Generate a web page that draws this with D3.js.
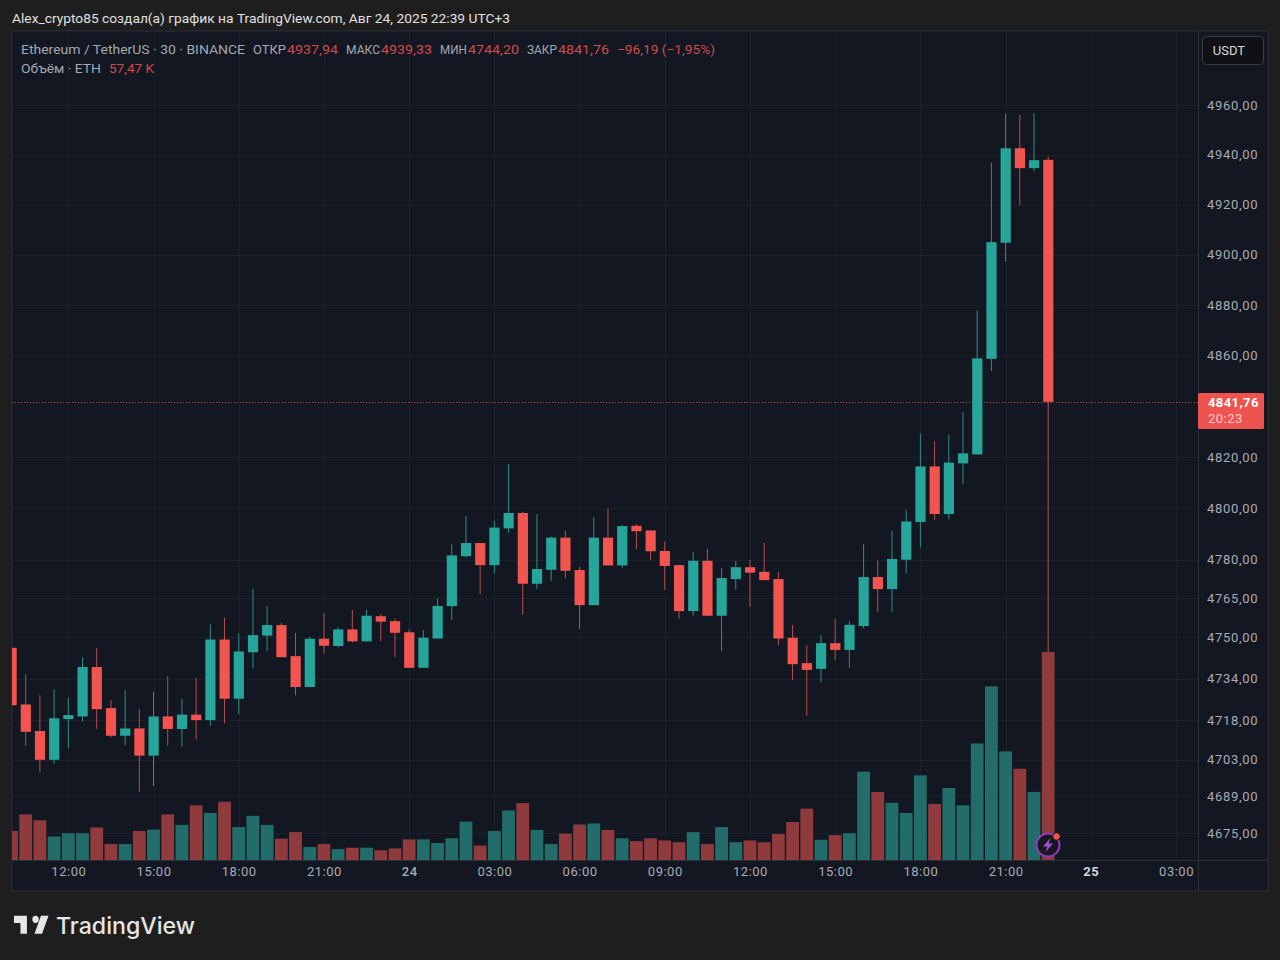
<!DOCTYPE html>
<html><head><meta charset="utf-8">
<script src="https://cdnjs.cloudflare.com/ajax/libs/d3/7.8.5/d3.min.js"></script>
<style>html,body{margin:0;padding:0;background:#1e1e1e}svg{display:block}text{font-family:Roboto,"Noto Sans",sans-serif}</style>
</head><body><svg id="c" width="1280" height="960"></svg>
<script>
const opens=[4745.9,4724.1,4713.9,4702.9,4718.5,4719.5,4738.5,4722.7,4712.1,4714.9,4704.5,4719.5,4714.7,4720.2,4718.1,4749.1,4726.3,4744.2,4750.6,4754.7,4742.7,4730.8,4749.4,4746.6,4753.0,4748.4,4758.1,4756.2,4751.9,4738.2,4749.5,4762.0,4781.4,4786.5,4777.9,4792.2,4798.2,4770.7,4776.1,4788.6,4776.0,4762.4,4788.6,4777.8,4793.2,4791.4,4783.4,4777.9,4760.1,4779.6,4758.3,4772.5,4777.1,4775.3,4772.5,4749.8,4740.0,4737.8,4747.7,4745.1,4754.3,4773.3,4768.6,4780.0,4794.7,4816.4,4797.8,4817.6,4821.1,4858.7,4904.8,4942.6,4934.6,4937.94];
const highs=[4745.9,4735.7,4727.7,4729.9,4726.7,4742.2,4745.9,4725.8,4729.6,4722.3,4729.0,4735.0,4726.2,4734.3,4754.9,4757.6,4751.5,4768.7,4762.0,4755.5,4751.7,4750.2,4759.4,4754.0,4760.5,4760.5,4758.9,4757.3,4753.0,4752.7,4765.0,4786.0,4797.0,4786.5,4795.2,4817.3,4798.7,4797.8,4789.0,4791.2,4777.3,4796.5,4800.0,4793.5,4793.9,4791.4,4787.0,4777.9,4783.1,4784.3,4776.7,4779.4,4779.9,4786.6,4775.3,4754.7,4746.9,4750.7,4757.0,4756.2,4786.0,4779.8,4791.3,4799.3,4829.3,4826.3,4828.8,4837.6,4877.8,4936.8,4956.4,4956.0,4956.6,4939.33];
const lows=[4723.8,4708.3,4698.1,4701.3,4707.3,4717.6,4714.7,4711.5,4708.5,4690.7,4692.9,4708.3,4707.9,4710.7,4715.8,4716.9,4720.4,4738.1,4744.7,4742.3,4727.6,4730.8,4743.7,4746.1,4748.0,4748.4,4748.5,4742.4,4738.2,4738.2,4749.5,4756.6,4780.9,4766.7,4774.7,4790.4,4758.6,4768.7,4771.8,4772.8,4753.3,4762.4,4777.8,4776.9,4784.2,4779.9,4768.2,4757.1,4758.3,4758.3,4744.7,4768.5,4761.7,4772.1,4746.9,4733.5,4719.8,4732.6,4741.2,4738.3,4753.4,4759.6,4759.6,4774.6,4784.8,4795.4,4795.7,4809.5,4821.2,4853.9,4897.2,4919.6,4933.2,4744.20];
const closes=[4723.8,4713.6,4702.9,4718.8,4720.0,4738.5,4722.3,4712.1,4714.9,4704.5,4719.5,4714.7,4720.2,4718.1,4749.1,4726.3,4744.5,4750.8,4754.7,4742.3,4730.8,4749.4,4746.7,4753.0,4748.4,4758.3,4756.0,4751.7,4738.2,4749.8,4762.1,4781.7,4786.5,4777.9,4792.5,4798.2,4770.7,4776.4,4788.6,4775.7,4762.4,4788.6,4777.8,4793.1,4791.1,4783.3,4777.6,4760.1,4779.6,4758.3,4772.9,4777.1,4775.0,4772.1,4749.5,4739.6,4737.4,4747.7,4745.1,4754.8,4773.3,4768.6,4780.3,4794.9,4816.4,4797.8,4817.9,4821.5,4858.9,4905.0,4942.6,4934.6,4937.8,4841.76];
const volumes=[8.0,12.6,11.0,6.5,7.4,7.4,9.0,4.4,4.4,8.0,8.4,12.6,9.7,15.1,13.0,16.1,9.1,12.2,9.7,5.9,7.7,3.6,4.4,3.0,3.4,3.4,2.7,3.2,5.7,5.7,4.7,6.0,10.6,4.0,8.0,13.7,15.7,8.3,4.4,7.3,9.8,10.1,8.3,6.0,5.2,6.0,5.4,4.9,7.7,4.4,9.1,4.9,5.4,4.9,7.2,10.5,14.2,5.6,6.9,7.4,24.4,18.8,15.8,13.0,23.4,15.5,19.9,15.1,32.2,48.0,30.0,25.2,18.8,57.47];
const priceTicks=[4960,4940,4920,4900,4880,4860,4820,4800,4780,4765,4750,4734,4718,4703,4689,4675];
const timeTickBars=[4,10,16,22,28,34,40,46,52,58,64,70,76,82];
const timeTickLabels=["12:00","15:00","18:00","21:00","24","03:00","06:00","09:00","12:00","15:00","18:00","21:00","25","03:00"];

const W=1280,H=960,L=12,R=1198,RE=1268,T=31,B=860,BE=891;
const UP="#26a69a",DN="#f2554f",UPV="#226d69",DNV="#8f3b3e",GRID="#1c202b",TXT="#a8abb4";
const svg=d3.select("#c");
const loc=d3.formatLocale({decimal:",",thousands:"",grouping:[3],currency:["",""]});
const f2=loc.format(".2f");

svg.append("rect").attr("width",W).attr("height",H).attr("fill","#1e1e1e");
svg.append("text").attr("x",12).attr("y",22.5).attr("fill","#e0e0e0").attr("font-size",13.5).attr("font-weight",400)
  .attr("textLength",498).attr("lengthAdjust","spacingAndGlyphs")
  .text("Alex_crypto85 создал(а) график на TradingView.com, Авг 24, 2025 22:39 UTC+3");
svg.append("rect").attr("x",L).attr("y",T).attr("width",RE-L).attr("height",BE-T).attr("fill","#131722").attr("stroke","#2a2e39");

const x=d3.scaleLinear().domain([0,73]).range([11.5,1048.2]);
const y=d3.scaleLog().domain([4960,4675]).range([105,833]);
const v=d3.scaleLinear().domain([0,d3.max(volumes)]).range([B,652]);

svg.append("defs").append("clipPath").attr("id","pane").append("rect").attr("x",L).attr("y",T).attr("width",R-L).attr("height",B-T);

const xAxis=d3.axisBottom(x).tickValues(timeTickBars).tickSize(0).tickPadding(0).tickFormat((d,i)=>timeTickLabels[i]);
const yAxis=d3.axisRight(y).tickValues(priceTicks).tickSize(0).tickPadding(9).tickFormat(f2);

const grid=svg.append("g").attr("clip-path","url(#pane)").attr("stroke",GRID).attr("stroke-width",1);
grid.selectAll("line.h").data(priceTicks).join("line").attr("class","h").attr("x1",L).attr("x2",R).attr("y1",d=>Math.round(y(d))+.5).attr("y2",d=>Math.round(y(d))+.5);
grid.selectAll("line.v").data(timeTickBars).join("line").attr("class","v").attr("y1",T).attr("y2",B).attr("x1",d=>Math.round(x(d))+.5).attr("x2",d=>Math.round(x(d))+.5);

const plot=svg.append("g").attr("clip-path","url(#pane)");
const idx=d3.range(opens.length);
const isUp=i=>closes[i]>=opens[i];
plot.selectAll("rect.vol").data(idx).join("rect").attr("class","vol")
  .attr("x",i=>x(i)-6.4).attr("width",12.8).attr("y",i=>v(volumes[i])).attr("height",i=>B-v(volumes[i]))
  .attr("fill",i=>isUp(i)?UPV:DNV);
plot.append("line").attr("x1",L).attr("x2",R).attr("y1",Math.round(y(closes[73]))+.5).attr("y2",Math.round(y(closes[73]))+.5)
  .attr("stroke","#ef5350").attr("stroke-width",1).attr("stroke-dasharray","1 2").attr("opacity",.8);
plot.selectAll("line.wick").data(idx).join("line").attr("class","wick")
  .attr("x1",i=>x(i)).attr("x2",i=>x(i)).attr("y1",i=>y(highs[i])).attr("y2",i=>y(lows[i]))
  .attr("stroke",i=>isUp(i)?"#2b8f88":"#b5504e").attr("stroke-width",1);
plot.selectAll("rect.body").data(idx).join("rect").attr("class","body")
  .attr("x",i=>x(i)-5).attr("width",10.2)
  .attr("y",i=>y(Math.max(opens[i],closes[i])))
  .attr("height",i=>Math.max(1,Math.abs(y(opens[i])-y(closes[i]))))
  .attr("fill",i=>isUp(i)?UP:DN);

// separators
svg.append("line").attr("x1",R+.5).attr("x2",R+.5).attr("y1",T).attr("y2",BE).attr("stroke","#2a2e39");
svg.append("line").attr("x1",L).attr("x2",RE).attr("y1",B+.5).attr("y2",B+.5).attr("stroke","#2a2e39");

// axes
const gx=svg.append("g").attr("transform",`translate(0,${B+7})`).call(xAxis);
gx.select(".domain").remove();
gx.selectAll("text").attr("font-size",13).attr("letter-spacing",".5px").attr("font-family","Roboto,sans-serif")
  .attr("fill",(d,i)=>timeTickLabels[i]==="25"?"#d4d6dc":TXT)
  .attr("font-weight",(d,i)=>timeTickLabels[i]==="25"?700:timeTickLabels[i]==="24"?500:400);
const gy=svg.append("g").attr("transform",`translate(${R},0)`).call(yAxis);
gy.select(".domain").remove();
gy.selectAll("text").attr("fill",TXT).attr("font-size",13).attr("letter-spacing",".7px").attr("font-family","Roboto,sans-serif");

// last-price tag
svg.append("rect").attr("x",R).attr("y",393).attr("width",66).attr("height",36).attr("rx",1.5).attr("fill","#ef5350");
svg.append("text").attr("x",1208).attr("y",407).attr("fill","#fff").attr("font-size",13).attr("font-weight",700).attr("letter-spacing",".4px").text(f2(closes[73]));
svg.append("text").attr("x",1208).attr("y",423).attr("fill","#fbd0ce").attr("font-size",13).attr("letter-spacing",".5px").text("20:23");

// USDT button
svg.append("rect").attr("x",1202.5).attr("y",36.5).attr("width",61).attr("height",28).attr("rx",4).attr("fill","#101114").attr("stroke","#3a3d45");
svg.append("text").attr("x",1229).attr("y",55).attr("text-anchor","middle").attr("fill","#d8d8d8").attr("font-size",13).text("USDT");

// legend
const legendRow1=[["Ethereum / TetherUS · 30 · BINANCE",21,224,0],["ОТКР",253,33,0],[f2(opens[73]),287,51,1],["МАКС",346,34,0],[f2(highs[73]),381,51,1],["МИН",440,27,0],[f2(lows[73]),468,51,1],["ЗАКР",527,30,0],[f2(closes[73]),558,51,1],["−96,19 (−1,95%)",617,98,1]];
legendRow1.forEach(([t,xx,w,red])=>svg.append("text").attr("x",xx).attr("y",54).attr("fill",red?"#d04a4a":"#a4a7b0").attr("font-size",13)
  .attr("textLength",w).attr("lengthAdjust","spacingAndGlyphs").text(t));
svg.append("text").attr("x",21).attr("y",73).attr("fill","#a4a7b0").attr("font-size",13).attr("textLength",80).attr("lengthAdjust","spacingAndGlyphs").text("Объём · ETH");
svg.append("text").attr("x",109).attr("y",73).attr("fill","#d04a4a").attr("font-size",13).attr("textLength",45).attr("lengthAdjust","spacingAndGlyphs").text("57,47 K");

// flash badge
const bx=1048,by=845;
svg.append("circle").attr("cx",bx).attr("cy",by).attr("r",11.5).attr("fill","#17171f").attr("stroke","#8e3bbf").attr("stroke-width",2);
svg.append("path").attr("transform",`translate(${bx},${by})`).attr("d","M2.5-7L-5 1.5H-.6L-2.5 7L5-1.5H.6Z").attr("fill","#a64fd4");
svg.append("circle").attr("cx",bx+8.5).attr("cy",by-8.5).attr("r",3.8).attr("fill","#f2554f").attr("stroke","#17171f");

// TradingView logo
svg.append("path").attr("transform","translate(11.8,908.5) scale(1.08,1.2)").attr("fill","#e6e6e6")
  .attr("d","M14 6H2v6h6v9h6V6zm14 15h-7l6-15h7l-6 15zm-6-15a3 3 0 1 1 0 6 3 3 0 0 1 0-6z");
svg.append("text").attr("x",56).attr("y",933.5).attr("fill","#e6e6e6").attr("font-size",23).attr("font-weight",500).style("font-family","Inter,Roboto,sans-serif").attr("textLength",139).attr("lengthAdjust","spacingAndGlyphs").text("TradingView");
</script></body></html>
